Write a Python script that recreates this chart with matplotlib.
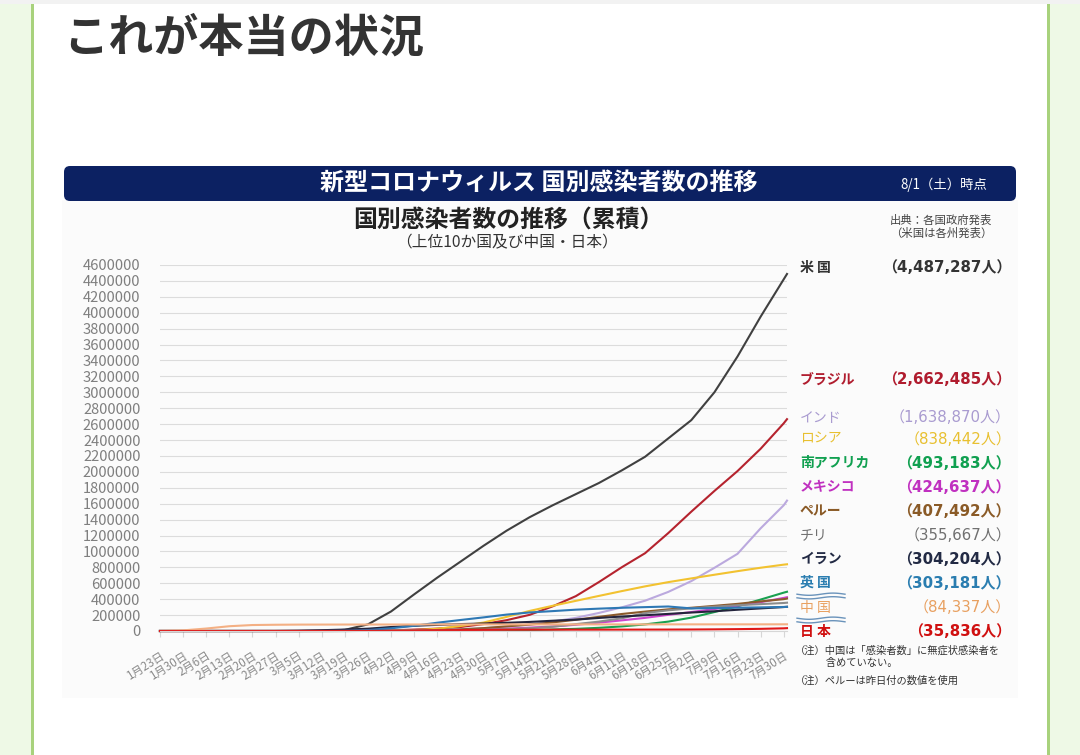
import matplotlib
matplotlib.use("Agg")
import matplotlib.pyplot as plt
import numpy as np
from matplotlib.patches import FancyBboxPatch, Rectangle

plt.rcParams["font.family"] = ["Noto Sans CJK JP", "DejaVu Sans"]

# weekly tick labels (Excel category axis, one label every 7 days)
TICK_LABELS = [
    "1月23日", "1月30日", "2月6日", "2月13日", "2月20日", "2月27日", "3月5日",
    "3月12日", "3月19日", "3月26日", "4月2日", "4月9日", "4月16日", "4月23日",
    "4月30日", "5月7日", "5月14日", "5月21日", "5月28日", "6月4日", "6月11日",
    "6月18日", "6月25日", "7月2日", "7月9日", "7月16日", "7月23日", "7月30日",
]
LAST_DAY = 190  # 7/31, last point on the chart

# cumulative cases, thousands, read at each weekly tick + last day
us = [0, 0, 0, 0, 0, 0, 0.2, 1.6, 14, 83, 245, 460, 670, 870, 1070, 1260, 1430,
      1580, 1720, 1860, 2020, 2190, 2420, 2650, 3000, 3450, 3950, 4420, 4487.287]
brazil = [0, 0, 0, 0, 0, 0, 0.008, 0.05, 0.6, 2.9, 8, 18, 30, 50, 87, 136, 203,
          310, 438, 615, 803, 978, 1230, 1500, 1760, 2010, 2290, 2610, 2662.485]
india = [0, 0, 0, 0, 0, 0, 0.03, 0.07, 0.2, 0.7, 2.5, 6.7, 13, 23, 35, 56, 82,
         118, 165, 227, 298, 381, 491, 627, 794, 970, 1290, 1580, 1638.870]
russia = [0, 0, 0, 0, 0, 0, 0, 0.03, 0.2, 0.84, 3.5, 10, 28, 62, 106, 177, 252,
          317, 379, 441, 502, 561, 614, 661, 707, 752, 795, 834, 838.442]
s_africa = [0, 0, 0, 0, 0, 0, 0, 0.02, 0.15, 0.9, 1.5, 1.9, 2.6, 3.9, 5.6, 8.2, 12,
            19, 27, 40, 58, 83, 118, 168, 238, 311, 395, 482, 493.183]
mexico = [0, 0, 0, 0, 0, 0, 0, 0.01, 0.16, 0.6, 1.5, 3.4, 6.3, 11, 19, 29, 42,
          57, 78, 105, 134, 165, 203, 238, 276, 318, 362, 416, 424.637]
peru = [0, 0, 0, 0, 0, 0, 0, 0.02, 0.23, 0.58, 1.4, 5.3, 12.5, 20, 36, 58, 80,
        108, 141, 178, 214, 244, 272, 292, 316, 341, 372, 400, 407.492]
chile = [0, 0, 0, 0, 0, 0, 0, 0.03, 0.34, 1.3, 3.4, 5.5, 9, 11.8, 16, 24, 35,
         53, 86, 118, 160, 225, 260, 285, 306, 324, 338, 352, 355.667]
iran = [0, 0, 0, 0, 0, 0.25, 3.5, 10, 18, 29, 50, 66, 77, 87, 94, 103, 114,
        129, 143, 164, 182, 198, 215, 232, 248, 267, 284, 301, 304.204]
uk = [0, 0, 0, 0, 0, 0, 0.12, 0.59, 2.7, 11.7, 34, 65, 104, 138, 171, 206, 233,
      250, 268, 281, 292, 300, 308, 284, 288, 293, 297, 302, 303.181]
china = [0.64, 7.7, 31, 60, 75, 78.5, 80.4, 80.8, 81.2, 81.3, 81.6, 81.9, 82.7,
         82.8, 82.9, 82.9, 82.9, 82.97, 83.0, 83.0, 83.06, 83.3, 83.45, 83.55,
         83.6, 83.6, 83.7, 84.2, 84.337]
japan = [0.001, 0.011, 0.025, 0.033, 0.094, 0.2, 0.33, 0.6, 0.92, 1.3, 2.4, 5.0,
         9.2, 11.8, 14.1, 15.5, 16.1, 16.5, 16.7, 17.0, 17.3, 17.7, 18.1, 18.9,
         20.7, 23.5, 27.0, 33.5, 35.836]

COUNTRIES = ["米 国", "ブラジル", "インド", "ロシア", "南アフリカ", "メキシコ",
             "ペルー", "チリ", "イラン", "英 国", "中 国", "日 本"]
SERIES = [us, brazil, india, russia, s_africa, mexico, peru, chile, iran, uk,
          china, japan]
TOTALS = ["（4,487,287人）", "（2,662,485人）", "（1,638,870人）", "（838,442人）",
          "（493,183人）", "（424,637人）", "（407,492人）", "（355,667人）",
          "（304,204人）", "（303,181人）", "（84,337人）", "（35,836人）"]

LINE_COLORS = ["#404040", "#b5232e", "#bba9de", "#f2c230", "#1aa050", "#cc44cc",
               "#8b5a2b", "#8c8c8c", "#24243c", "#2e78b4", "#f4b084", "#e01818"]
TEXT_COLORS = ["#333333", "#b01c2e", "#a99bd0", "#e8c030", "#10a050", "#c030c0",
               "#8a5a26", "#707070", "#222a44", "#2a7db0", "#e8a060", "#d01010"]
LABEL_Y = [268, 380, 418, 439, 463, 487, 511, 535, 559, 583, 608, 632]
BOLD = [True, True, False, False, True, True, True, False, True, True, False, True]

W, H = 1080, 755
fig = plt.figure(figsize=(W / 100, H / 100), dpi=100)

# page background in pixel coordinates
bg = fig.add_axes([0, 0, 1, 1])
bg.set_xlim(0, W)
bg.set_ylim(H, 0)
bg.axis("off")
bg.add_patch(Rectangle((0, 0), 31, H, color="#eef9e6", lw=0))
bg.add_patch(Rectangle((31, 0), 3, H, color="#a8d27c", lw=0))
bg.add_patch(Rectangle((1047, 0), 3, H, color="#a8d27c", lw=0))
bg.add_patch(Rectangle((1050, 0), 30, H, color="#eef9e6", lw=0))
bg.add_patch(Rectangle((0, 0), W, 4, color="#f2f2f2", lw=0))
bg.text(63, 39, "これが本当の状況", fontsize=32.5, fontweight="bold", color="#333333",
        va="center", ha="left")

# chart image
bg.add_patch(Rectangle((62, 200), 956, 498, color="#fbfbfb", lw=0))
bg.add_patch(FancyBboxPatch((64, 166), 952, 35, boxstyle="round,pad=0,rounding_size=6",
                            color="#0c2162", lw=0))
bg.text(539, 183, "新型コロナウィルス 国別感染者数の推移", fontsize=17.3, fontweight="bold",
        color="white", ha="center", va="center")
bg.text(944, 185, "8/1（土）時点", fontsize=9.6, color="white", ha="center", va="center")
bg.text(508, 220, "国別感染者数の推移（累積）", fontsize=17.2, fontweight="bold",
        color="#222222", ha="center", va="center")
bg.text(507, 243, "（上位10か国及び中国・日本）", fontsize=11.3, color="#333333",
        ha="center", va="center")
bg.text(941, 227, "出典：各国政府発表\n（米国は各州発表）", fontsize=8.2, color="#444444",
        ha="center", va="center", linespacing=1.2)

for name, total, c, y, b in zip(COUNTRIES, TOTALS, TEXT_COLORS, LABEL_Y, BOLD):
    w = "bold" if b else "normal"
    bg.text(800, y, name, fontsize=10, fontweight=w, color=c, ha="left", va="center")
    bg.text(1011, y, total, fontsize=10.8, fontweight=w, color=c, ha="right", va="center",
            family=["DejaVu Sans", "Noto Sans CJK JP"])

# break marks between 英国 / 中国 / 日本
xs = np.linspace(797, 845, 80)
for yc in (596, 620):
    for dy in (-1.8, 1.8):
        bg.plot(xs, yc + dy + 1.1 * np.sin((xs - 797) / 48 * 2 * np.pi), color="#6a93bb",
                lw=1.0)

bg.text(795, 657, "（注）中国は「感染者数」に無症状感染者を\n　　　含めていない。",
        fontsize=7.4, color="#333333", ha="left", va="center", linespacing=1.25)
bg.text(795, 681, "（注）ペルーは昨日付の数値を使用", fontsize=7.4, color="#333333",
        ha="left", va="center")

# plot axes: x 160..787 px, y 631 (0) .. 265 (4.6M) px
ax = fig.add_axes([160 / W, 1 - 631 / H, (787 - 160) / W, (631 - 265) / H])
ax.patch.set_alpha(0)
days = [7 * i for i in range(len(TICK_LABELS))] + [LAST_DAY]
for vals, c in zip(SERIES, LINE_COLORS):
    ax.plot(days, np.array(vals) * 1000, color=c, lw=1.5, clip_on=False,
            solid_joinstyle="round")

ax.set_xlim(0, LAST_DAY)
ax.set_ylim(0, 4_600_000)
ax.set_yticks(np.arange(0, 4_600_001, 200_000))
ax.set_yticklabels([f"{int(v)}" for v in ax.get_yticks()])
ax.grid(axis="y", color="#dcdcdc", lw=0.8)
ax.set_axisbelow(True)
for s in ("top", "right", "left"):
    ax.spines[s].set_visible(False)
ax.spines["bottom"].set_color("#d6d6d6")
ax.tick_params(axis="y", length=0, pad=14, labelsize=10.6, labelcolor="#7f7f7f")
ax.set_xticks(days[:-1])
ax.set_xticklabels(TICK_LABELS, rotation=32, ha="right", va="top",
                   rotation_mode="anchor", fontsize=8.3, color="#8a8a8a")
ax.tick_params(axis="x", length=4, color="#d6d6d6", pad=9)

fig.savefig("out.png", dpi=100)
